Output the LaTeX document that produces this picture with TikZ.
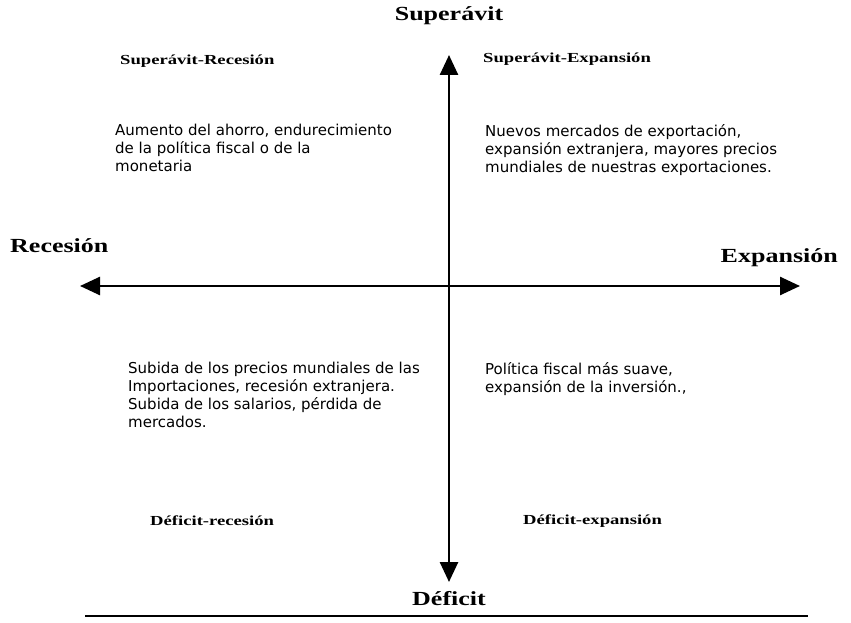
\documentclass[tikz,border=0pt]{standalone}
\usepackage{fontspec}
\setmainfont{Liberation Serif}
\newfontfamily\ttlfont[FakeStretch=1.3]{Liberation Serif}
\newfontfamily\quadfont[FakeStretch=1.35]{Liberation Serif}
\newfontfamily\bodyfont{DejaVu Sans}
\usetikzlibrary{arrows.meta}
\begin{document}
\begin{tikzpicture}[x=1pt,y=-1pt,
  axis/.style={line width=2.6pt,{Triangle[length=20pt,width=18pt]}-{Triangle[length=20pt,width=18pt]}},
  title/.style={font=\ttlfont\fontsize{20}{22}\selectfont\bfseries,inner sep=0pt},
  quad/.style={font=\quadfont\fontsize{13.8}{15}\selectfont\bfseries,inner sep=0pt,anchor=west},
  body/.style={font=\bodyfont\fontsize{15}{18}\selectfont,inner sep=0pt,anchor=north west,align=left}]
\useasboundingbox (0,0) rectangle (851,623);
\coordinate (top) at (449,55);
\coordinate (bot) at (449,582);
\coordinate (lft) at (80,286);
\coordinate (rgt) at (800,286);
\draw[axis] (bot) -- (top);
\draw[axis] (lft) -- (rgt);
\node[title] (sup) at (449,16) {Superávit};
\node[title,anchor=west] (rec) at (10,246) {Recesión};
\node[title,anchor=east] (exp) at (838,258) {Expansión};
\node[title] (def) at (449,599) {Déficit};
\coordinate (r1) at (85,616);
\coordinate (r2) at (808,616);
\draw[line width=2pt] (r1) -- (r2);
\node[quad] (sr) at (120,61) {Superávit-Recesión};
\node[quad] (se) at (483,59) {Superávit-Expansión};
\node[quad] (dr) at (150,521) {Déficit-recesión};
\node[quad] (de) at (523,521) {Déficit-expansión};
\node[body] (t1) at (115,124) {Aumento del ahorro, endurecimiento\\ de la política fiscal o de la\\monetaria};
\node[body] (t2) at (485,124) {Nuevos mercados de exportación,\\expansión extranjera, mayores precios\\mundiales de nuestras exportaciones.};
\node[body] (t3) at (128,362) {Subida de los precios mundiales de las\\Importaciones, recesión extranjera.\\Subida de los salarios, pérdida de\\mercados.};
\node[body] (t4) at (485,362) {Política fiscal más suave,\\expansión de la inversión.,};
\end{tikzpicture}
\end{document}
